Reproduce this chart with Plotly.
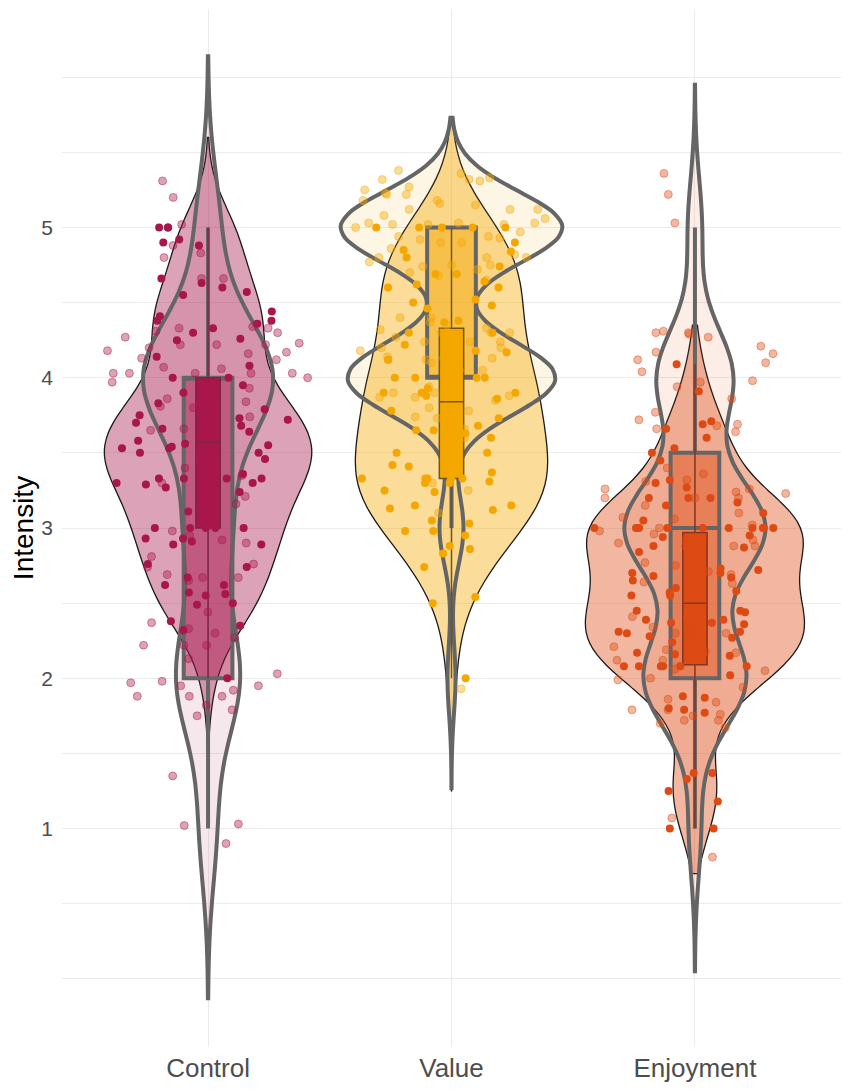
import numpy as np
import plotly.graph_objects as go

# categories and the single-item (integer) answers behind the light violins
categories = ["Control", "Value", "Enjoyment"]
item_levels = [1, 2, 3, 4, 5]
control_item_counts = [8, 30, 21, 62, 11]
value_item_counts = [0, 4, 12, 104, 111]
enjoyment_item_counts = [6, 51, 70, 38, 7]

# scale scores (solid points, filled violins)
control_scale = [5.0, 5.0, 5.0, 4.92, 4.9, 4.88, 4.66, 4.63, 4.6, 4.57, 4.55, 4.44, 4.41, 4.36, 4.38,
                 4.33, 4.3, 4.25, 4.26, 4.38, 4.14, 4.08, 4.0, 4.0, 3.9, 3.9, 3.83, 3.83, 3.79, 3.75,
                 3.95, 3.73, 3.7, 3.64, 3.67, 3.66, 3.58, 3.55, 3.68, 3.72, 3.53, 3.53, 3.56, 3.5, 3.5,
                 3.44, 3.33, 3.33, 3.3, 3.33, 3.54, 3.53, 3.46, 3.33, 3.3, 3.27, 3.29, 3.24, 3.27, 3.36,
                 3.0, 3.0, 3.0, 3.0, 3.02, 3.11, 3.0, 2.93, 2.89, 2.89, 2.93, 2.91, 2.76, 2.74, 2.67,
                 2.55, 2.56, 2.57, 2.62, 2.62, 2.5, 2.49, 2.35, 2.32, 2.38, 2.0]
value_scale = [5.0, 5.0, 4.9, 5.0, 5.0, 5.0, 4.85, 4.74, 4.84, 4.8, 4.69, 4.6, 4.62, 4.6, 4.64, 4.69,
               4.5, 4.52, 4.46, 4.48, 4.38, 4.3, 4.3, 4.37, 4.12, 4.17, 4.0, 4.0, 4.0, 4.0, 4.0, 4.22,
               4.18, 3.9, 3.93, 3.9, 3.88, 3.9, 3.86, 3.87, 3.73, 3.69, 3.65, 3.63, 3.78, 3.6, 3.65,
               3.68, 3.5, 3.5, 3.42, 3.37, 3.4, 3.41, 3.33, 3.33, 3.33, 3.3, 3.3, 3.31, 3.25, 3.33,
               3.33, 3.24, 3.15, 3.15, 3.13, 3.12, 3.05, 2.98, 2.98, 3.03, 2.95, 2.88, 2.86, 2.83,
               2.74, 2.54, 2.5, 2.0]
enjoyment_scale = [4.09, 3.91, 3.66, 3.71, 3.69, 3.6, 3.53, 3.5, 3.32, 3.27, 3.3, 3.45, 3.2, 3.2, 3.2,
                   3.15, 3.1, 3.17, 3.0, 3.05, 3.0, 3.0, 3.0, 3.0, 3.0, 3.0, 3.0, 3.0, 3.0, 3.0, 2.95,
                   2.94, 2.87, 2.88, 2.93, 2.88, 2.84, 2.73, 2.7, 2.7, 2.68, 2.65, 2.7, 2.72, 2.67, 2.6,
                   2.57, 2.58, 2.55, 2.55, 2.55, 2.44, 2.45, 2.41, 2.37, 2.27, 2.24, 2.37, 2.3, 2.39,
                   2.45, 2.39, 2.36, 2.31, 2.31, 2.28, 2.27, 2.19, 2.17, 2.16, 2.16, 2.15, 2.12, 2.08,
                   2.08, 2.08, 2.08, 2.08, 2.08, 2.02, 1.88, 1.87, 1.8, 1.79, 1.77, 1.37, 1.37, 1.33,
                   1.25, 1.18, 1.0, 1.0]

# single-item answers as plotted (vertically jittered, light points)
control_item_pts = [5.31, 5.2, 5.02, 4.83, 4.8, 4.88, 4.66, 4.66, 4.27, 4.23, 4.33, 4.22, 4.17, 4.3, 4.22,
                    4.2, 4.13, 4.12, 4.16, 4.06, 4.33, 4.34, 4.22, 4.31, 4.18, 4.07, 4.03, 4.03, 4.03,
                    4.03, 4.03, 4.0, 3.97, 3.9, 3.93, 3.86, 3.84, 3.8, 3.81, 3.74, 3.66, 3.65, 3.4, 3.3,
                    3.35, 3.37, 3.16, 3.19, 3.21, 2.98, 2.95, 2.9, 2.81, 2.74, 2.67, 2.67, 2.92, 2.76,
                    2.69, 2.65, 2.44, 2.22, 2.22, 2.22, 2.13, 2.37, 2.27, 2.3, 2.33, 1.95, 1.88, 1.88,
                    2.03, 1.98, 1.97, 1.95, 1.92, 1.88, 1.82, 1.79, 1.75, 1.35, 1.03, 1.02, 0.9]
value_item_pts = [5.33, 5.32, 5.36, 5.38, 5.32, 5.31, 5.22, 5.22, 5.23, 5.27, 5.25, 5.18, 5.15, 5.12,
                  5.12, 5.16, 5.12, 5.18, 5.08, 5.0, 5.02, 5.03, 5.03, 5.03, 5.02, 5.06, 4.97, 5.02,
                  4.94, 4.82, 4.9, 4.94, 4.92, 4.86, 4.93, 4.9, 4.8, 4.8, 4.75, 4.8, 4.72, 4.74, 4.75,
                  4.77, 4.68, 4.7, 4.65, 4.33, 4.4, 4.35, 4.37, 4.3, 4.3, 4.32, 4.27, 4.24, 4.4, 4.3,
                  4.24, 4.24, 4.2, 4.13, 4.13, 4.12, 4.12, 4.18, 4.2, 4.12, 4.1, 4.14, 4.05, 4.05, 4.03,
                  3.94, 3.9, 3.88, 3.9, 3.85, 3.8, 3.73, 3.78, 3.74, 3.87, 3.65, 3.66, 3.87, 3.6, 3.4,
                  3.3, 3.25, 3.1, 1.93]
enjoyment_item_pts = [5.36, 5.22, 5.03, 4.31, 4.3, 4.29, 4.27, 4.3, 4.21, 4.17, 4.16, 4.12, 4.1, 4.04,
                      3.98, 3.97, 3.94, 3.86, 3.77, 3.72, 3.69, 3.68, 3.64, 3.66, 3.36, 3.4, 3.31, 3.32,
                      3.26, 3.26, 3.24, 3.2, 3.15, 3.23, 3.2, 3.2, 3.1, 3.02, 3.07, 3.06, 2.98, 2.96,
                      3.0, 2.9, 2.92, 2.88, 2.88, 2.92, 2.88, 2.75, 2.77, 2.71, 2.69, 2.64, 2.63, 2.41,
                      2.3, 2.32, 2.3, 2.29, 2.34, 2.19, 2.21, 2.18, 2.17, 2.14, 2.12, 2.12, 2.05, 2.06,
                      2.0, 1.99, 1.94, 1.84, 1.86, 1.79, 1.79, 1.76, 1.75, 1.7, 1.72, 1.67, 1.72, 1.07,
                      0.81]

# box statistics
item_q1 = [2, 4, 2]
item_median = [4, 4, 3]
item_q3 = [4, 5, 3.5]
item_low = [1, 3, 1]
item_high = [5, 5, 5]
scale_q1 = [3.0, 3.33, 2.09]
scale_median = [3.57, 3.84, 2.5]
scale_q3 = [4.0, 4.33, 2.97]
scale_low = [2.0, 2.0, 1.0]
scale_high = [5.0, 5.0, 4.09]

# styling
base_rgb = [(168, 22, 76), (244, 167, 0), (221, 74, 20)]
edge_cols = ["#7a2640", "#6e5420", "#853521"]
gray = "#656565"
item_bw = [0.4, 0.24, 0.33]
item_span = [[-0.13, 6.14], [1.27, 5.73], [0.05, 5.95]]
item_width = [0.53, 0.91, 0.58]
scale_bw = [0.24, 0.3, 0.22]
scale_span = [[1.5, 5.6], [1.25, 5.73], [0.7, 4.35]]
scale_width = [0.85, 0.79, 0.9]


def rgba(c, a):
    return "rgba(%d,%d,%d,%s)" % (c[0], c[1], c[2], a)


item_counts = [control_item_counts, value_item_counts, enjoyment_item_counts]
scale_vals = [control_scale, value_scale, enjoyment_scale]
item_pts = [control_item_pts, value_item_pts, enjoyment_item_pts]

fig = go.Figure()

for i, cat in enumerate(categories):
    c = base_rgb[i]
    # filled violin of scale scores
    fig.add_trace(go.Violin(
        x=[cat] * len(scale_vals[i]), y=scale_vals[i],
        bandwidth=scale_bw[i], spanmode="manual", span=scale_span[i],
        width=scale_width[i], scalemode="width", points=False,
        fillcolor=rgba(c, 0.4), line=dict(color="#1a1a1a", width=1.3),
        hoverinfo="skip", showlegend=False))
    # light violin of single items
    item_y = np.repeat(item_levels, item_counts[i])
    fig.add_trace(go.Violin(
        x=[cat] * len(item_y), y=item_y,
        bandwidth=item_bw[i], spanmode="manual", span=item_span[i],
        width=item_width[i], scalemode="width", points=False,
        fillcolor=rgba(c, 0.1), line=dict(color=gray, width=4),
        hoverinfo="skip", showlegend=False))

for i, cat in enumerate(categories):
    c = base_rgb[i]
    # wide box for the item
    fig.add_trace(go.Box(
        x=[cat], q1=[item_q1[i]], median=[item_median[i]], q3=[item_q3[i]],
        lowerfence=[item_low[i]], upperfence=[item_high[i]],
        width=0.2, whiskerwidth=0, fillcolor=rgba(c, 0.45),
        line=dict(color=gray, width=4), boxpoints=False,
        hoverinfo="skip", showlegend=False))
    # narrow box for the scale
    fig.add_trace(go.Box(
        x=[cat], q1=[scale_q1[i]], median=[scale_median[i]], q3=[scale_q3[i]],
        lowerfence=[scale_low[i]], upperfence=[scale_high[i]],
        width=0.1, whiskerwidth=0, fillcolor=rgba(c, 1),
        line=dict(color=edge_cols[i], width=1.5), boxpoints=False,
        hoverinfo="skip", showlegend=False))

for i, cat in enumerate(categories):
    c = base_rgb[i]
    # jittered points
    fig.add_trace(go.Box(
        x=[cat] * len(item_pts[i]), y=item_pts[i], boxpoints="all", jitter=1, pointpos=0,
        width=0.88, fillcolor="rgba(0,0,0,0)", line=dict(color="rgba(0,0,0,0)", width=0),
        marker=dict(size=8, color=rgba(c, 0.4), line=dict(color=rgba(c, 0.45), width=1)),
        hoverinfo="y", showlegend=False))
    fig.add_trace(go.Box(
        x=[cat] * len(scale_vals[i]), y=scale_vals[i], boxpoints="all", jitter=1, pointpos=0,
        width=0.88, fillcolor="rgba(0,0,0,0)", line=dict(color="rgba(0,0,0,0)", width=0),
        marker=dict(size=8, color=rgba(c, 1), line=dict(width=0)),
        hoverinfo="y", showlegend=False))

fig.update_layout(
    width=851, height=1091,
    margin=dict(l=54, r=18, t=1, b=52),
    paper_bgcolor="white", plot_bgcolor="white",
    violinmode="overlay", boxmode="overlay",
    font=dict(family="Liberation Sans, Arial, sans-serif", color="#4d4d4d"),
    xaxis=dict(categoryorder="array", categoryarray=categories, range=[-0.6, 2.6],
               showgrid=True, gridcolor="#ebebeb", gridwidth=1.2, zeroline=False,
               tickfont=dict(size=26, color="#4d4d4d"), ticks="", ticklabelstandoff=3),
    yaxis=dict(range=[-0.454, 6.454], tickvals=[1, 2, 3, 4, 5],
               showgrid=True, gridcolor="#ebebeb", gridwidth=1.2, zeroline=False,
               minor=dict(tick0=0, dtick=0.5, showgrid=True, gridcolor="#ebebeb", gridwidth=1),
               tickfont=dict(size=21, color="#4d4d4d"), ticks="", ticklabelstandoff=8,
               title=dict(text="Intensity", font=dict(size=28, color="black"), standoff=8)),
)

fig.write_html("out.html")
